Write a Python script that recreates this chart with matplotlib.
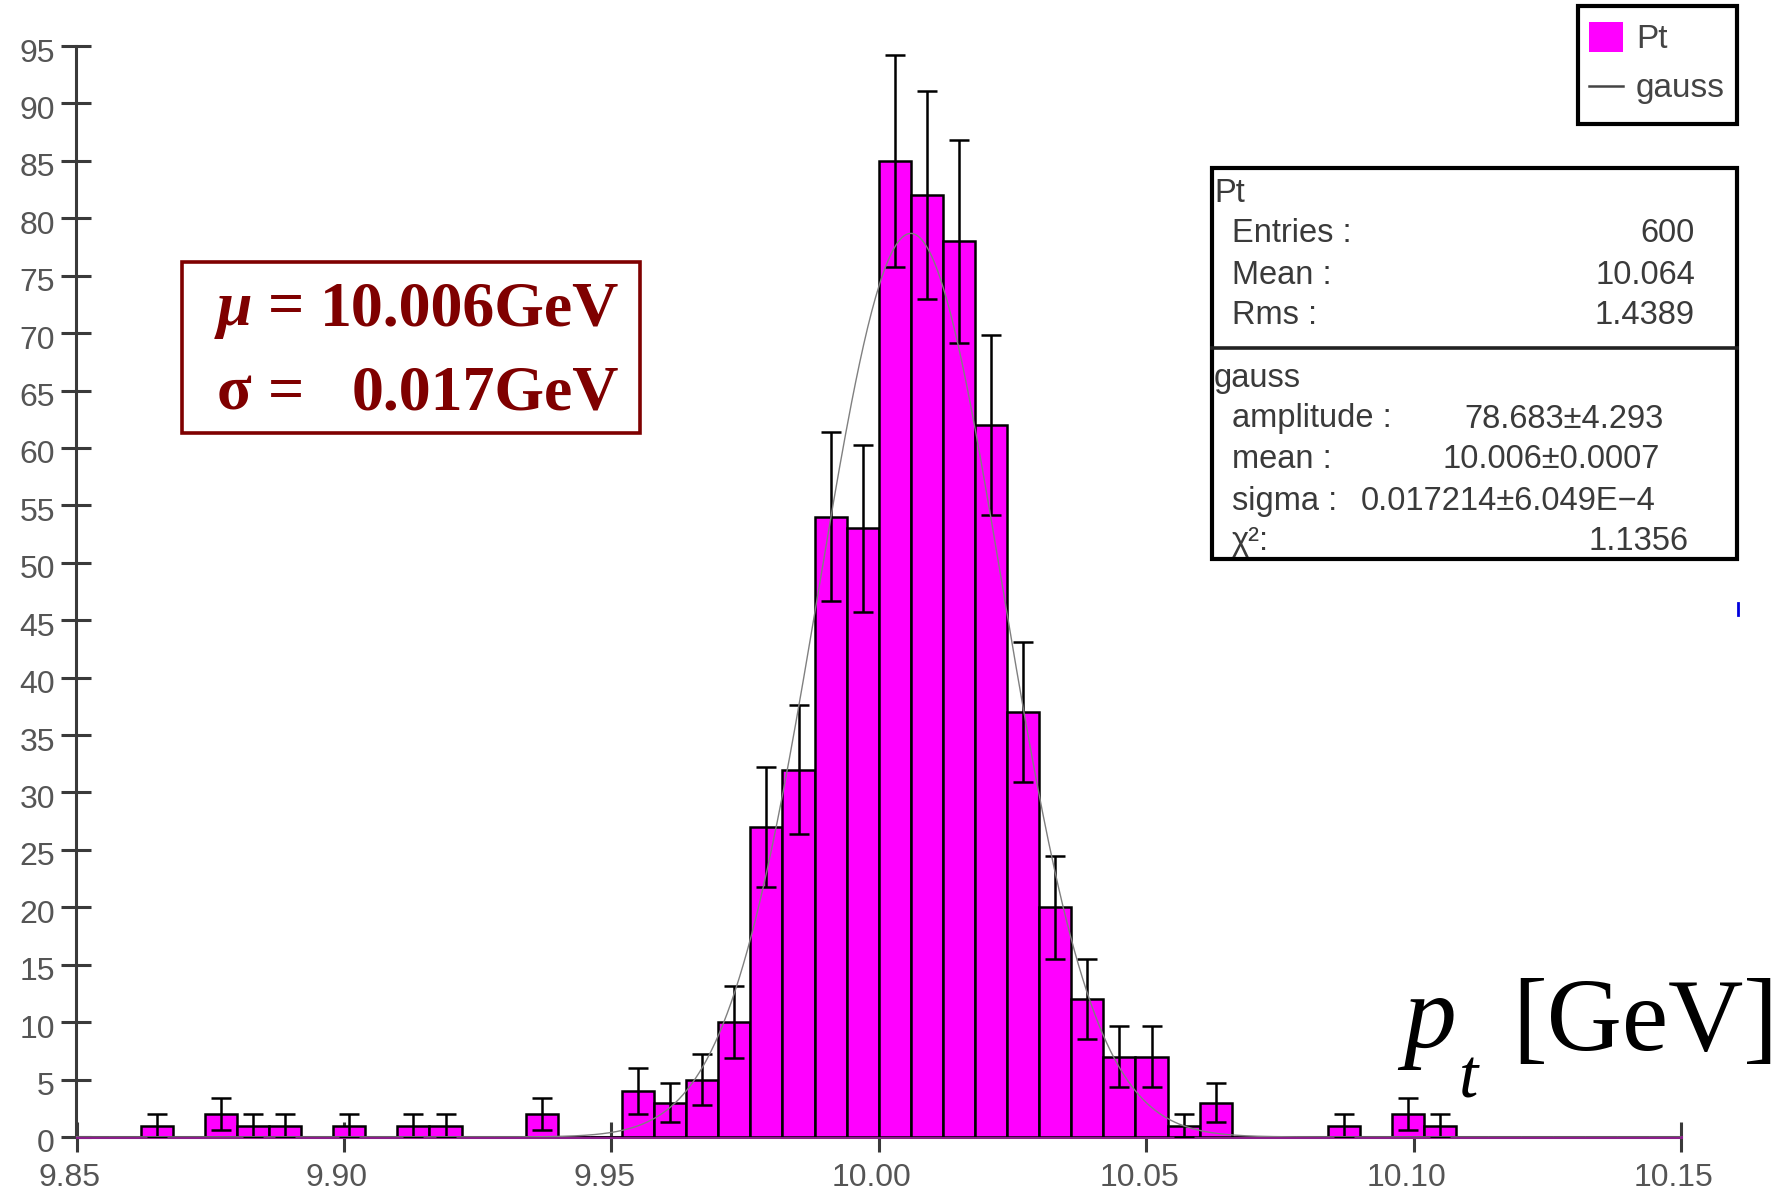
import numpy as np
import matplotlib
matplotlib.use('Agg')
import matplotlib.pyplot as plt
import matplotlib.transforms as mtransforms
from matplotlib.patches import Rectangle
from matplotlib.lines import Line2D

# histogram Pt : 50 bins from 9.85 to 10.15
bin_lo = 9.85
bin_width = 0.006
counts = [0, 0, 1, 0, 2, 1, 1, 0, 1, 0,
          1, 1, 0, 0, 2, 0, 0, 4, 3, 5,
          10, 27, 32, 54, 53, 85, 82, 78, 62, 37,
          20, 12, 7, 7, 1, 3, 0, 0, 0, 1,
          0, 2, 1, 0, 0, 0, 0, 0, 0, 0]

# gauss fit
g_amp = 78.683
g_mean = 10.006
g_sigma = 0.017214

x_ticks = [9.85, 9.90, 9.95, 10.00, 10.05, 10.10, 10.15]
y_ticks = list(range(0, 100, 5))

stats_pt = [('Entries :', '600'), ('Mean :', '10.064'), ('Rms :', '1.4389')]
stats_gauss = [('amplitude :', '78.683\u00b14.293'), ('mean :', '10.006\u00b10.0007'),
               ('sigma :', '0.017214\u00b16.049E\u22124'), ('\u03c7\u00b2:', '1.1356')]

W, H = 1790, 1193


def px(x, y):
    # pixel position (from top left) -> figure fraction
    return x / W, 1 - y / H


fig = plt.figure(figsize=(W / 100, H / 100), dpi=100)
ax = fig.add_axes([76.5 / W, 1 - 1137 / H, 1604.5 / W, 1091 / H])

counts = np.array(counts, dtype=float)
edges = bin_lo + bin_width * np.arange(len(counts) + 1)
centers = edges[:-1] + bin_width / 2

ax.bar(edges[:-1], counts, width=bin_width, align='edge', color='#ff00ff',
       edgecolor='black', linewidth=1.8, zorder=3)
nz = counts > 0
ax.errorbar(centers[nz], counts[nz], yerr=np.sqrt(counts[nz]), fmt='none',
            ecolor='black', elinewidth=1.8, capsize=7.5, capthick=1.8, zorder=4)

xg = np.linspace(9.85, 10.15, 800)
ax.plot(xg, g_amp * np.exp(-0.5 * ((xg - g_mean) / g_sigma) ** 2),
        color='#808080', lw=1.0, zorder=5)

ax.set_xlim(9.85, 10.15)
ax.set_ylim(0, 95)
ax.set_axisbelow(True)
ax.spines['top'].set_visible(False)
ax.spines['right'].set_visible(False)
ax.spines['left'].set_color('#3a3a3a')
ax.spines['left'].set_linewidth(2.2)
ax.spines['bottom'].set_color('#8a1e8a')
ax.spines['bottom'].set_linewidth(2.2)

ax.set_xticks(x_ticks)
ax.set_xticklabels(['%.2f' % v for v in x_ticks])
ax.set_yticks(y_ticks)
ax.tick_params(direction='inout', length=21, width=2.2, color='#3a3a3a',
               labelcolor='#555555', labelsize=23)
ax.tick_params(axis='x', pad=8)
ax.tick_params(axis='y', pad=5)
xoff = mtransforms.ScaledTranslation(-0.07, 0, fig.dpi_scale_trans)
yoff = mtransforms.ScaledTranslation(0, -0.04, fig.dpi_scale_trans)
for lab in ax.get_xticklabels():
    lab.set_fontfamily('Liberation Sans')
    lab.set_transform(lab.get_transform() + xoff)
for lab in ax.get_yticklabels():
    lab.set_fontfamily('Liberation Sans')
    lab.set_transform(lab.get_transform() + yoff)

# mu / sigma box
red = '#7f0000'
x0, y0 = px(182, 433)
x1, y1 = px(640, 262)
fig.patches.append(Rectangle((x0, y0), x1 - x0, y1 - y0, transform=fig.transFigure,
                             fill=False, edgecolor=red, linewidth=2.6))
for sym, val, yb, italic in [('\u03bc', '10.006GeV', 325, 'italic'),
                             ('\u03c3', '0.017GeV', 410, 'normal')]:
    fig.text(*px(217, yb), sym, color=red, fontsize=46, fontweight='bold',
             style=italic, family='Liberation Serif', va='baseline', ha='left')
    fig.text(*px(286, yb), '=', color=red, fontsize=46, fontweight='bold',
             family='Liberation Serif', va='baseline', ha='center')
    fig.text(*px(619, yb), val, color=red, fontsize=46, fontweight='bold',
             family='Liberation Serif', va='baseline', ha='right')

# axis title p_t [GeV]
fig.text(*px(1403, 1047), 'p', fontsize=76, style='italic', family='Liberation Serif',
         va='baseline', ha='left')
fig.text(*px(1459, 1097), 't', fontsize=50, style='italic', family='Liberation Serif',
         va='baseline', ha='left')
fig.text(*px(1512, 1050), '[GeV]', fontsize=75, family='Liberation Serif',
         va='baseline', ha='left')

# legend box
x0, y0 = px(1578, 124)
x1, y1 = px(1737, 6)
fig.patches.append(Rectangle((x0, y0), x1 - x0, y1 - y0, transform=fig.transFigure,
                             fill=False, edgecolor='black', linewidth=3))
x0, y0 = px(1589, 52)
x1, y1 = px(1623, 22)
fig.patches.append(Rectangle((x0, y0), x1 - x0, y1 - y0, transform=fig.transFigure,
                             facecolor='#ff00ff', edgecolor='none'))
fig.lines.append(Line2D([1589 / W, 1623 / W], [1 - 86 / H, 1 - 86 / H],
                        transform=fig.transFigure, color='#444444', lw=1.8))
fig.text(*px(1636, 39), 'Pt', fontsize=24, color='#444444', family='Liberation Sans',
         va='center')
fig.text(*px(1636, 88), 'gauss', fontsize=24, color='#444444', family='Liberation Sans',
         va='center')

# statistics box
x0, y0 = px(1212, 559)
x1, y1 = px(1737, 168)
fig.patches.append(Rectangle((x0, y0), x1 - x0, y1 - y0, transform=fig.transFigure,
                             fill=False, edgecolor='black', linewidth=3))
fig.lines.append(Line2D([x0, x1], [1 - 348 / H, 1 - 348 / H],
                        transform=fig.transFigure, color='#222222', lw=2.6))
txt = dict(fontsize=23.5, color='#3a3a3a', family='Liberation Sans', va='center')
fig.text(*px(1214, 193), 'Pt', **txt)
for (name, val), yy in zip(stats_pt, [234, 275, 316]):
    fig.text(*px(1232, yy), name, **txt)
    fig.text(*px(1695, yy), val, ha='right', **txt)
fig.text(*px(1214, 378), 'gauss', **txt)
for (name, val), yy, xr in zip(stats_gauss, [419, 460, 501, 541], [1664, 1660, 1656, 1689]):
    fig.text(*px(1232, yy), name, **txt)
    fig.text(*px(xr, yy), val, ha='right', **txt)

# small blue mark at the right edge
fig.lines.append(Line2D([1738 / W, 1738 / W], [1 - 603 / H, 1 - 615 / H],
                        transform=fig.transFigure, color='#0000dd', lw=2))

fig.savefig('out.png', dpi=100)
